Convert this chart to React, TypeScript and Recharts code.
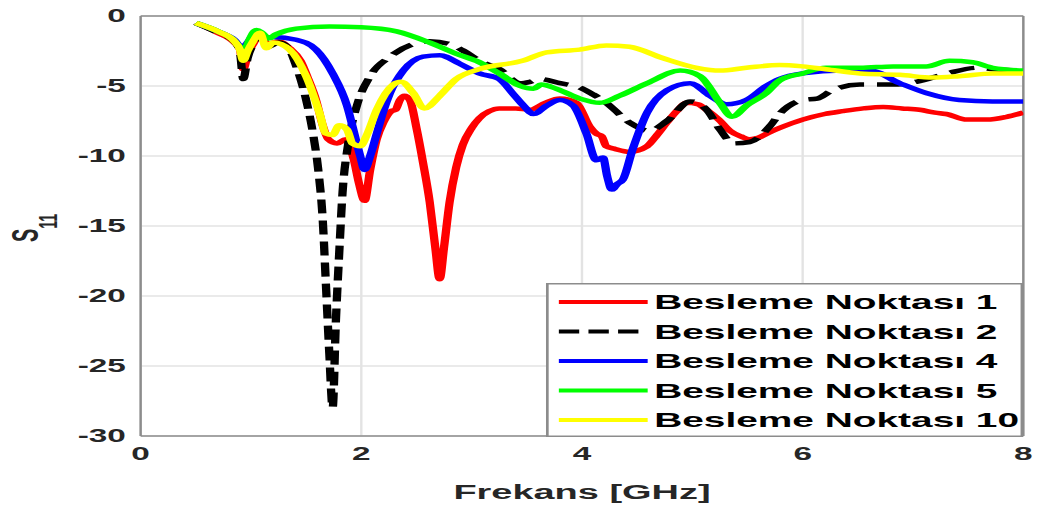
import { LineChart, Line, XAxis, YAxis, CartesianGrid, ReferenceLine } from 'recharts';

// frequency (GHz) / S11 (dB), one pair of arrays per feed point
const freq1 = [0.5, 0.7, 0.85, 0.9, 0.93, 0.97, 1.02, 1.08, 1.15, 1.25, 1.35, 1.45, 1.52, 1.59, 1.65, 1.7, 1.78, 1.86, 1.93, 1.98, 2.03, 2.08, 2.14, 2.2, 2.27, 2.31, 2.35, 2.39, 2.44, 2.5, 2.56, 2.62, 2.67, 2.71, 2.75, 2.8, 2.86, 2.92, 3.0, 3.07, 3.16, 3.25, 3.4, 3.53, 3.67, 3.8, 3.95, 4.07, 4.13, 4.18, 4.22, 4.3, 4.43, 4.59, 4.68, 4.77, 4.87, 4.95, 5.05, 5.13, 5.24, 5.34, 5.44, 5.52, 5.6, 5.7, 5.79, 6.0, 6.2, 6.36, 6.55, 6.73, 6.9, 7.06, 7.2, 7.3, 7.49, 7.67, 7.85, 8.0];
const s11_1 = [-0.5, -1.2, -1.9, -2.4, -3.8, -2.8, -2.0, -1.3, -2.0, -1.8, -2.3, -3.2, -4.5, -6.0, -7.8, -8.8, -9.1, -8.8, -10.2, -12.0, -13.2, -11.0, -8.8, -7.6, -6.8, -6.7, -6.0, -5.7, -6.0, -8.0, -10.5, -13.3, -16.5, -18.8, -16.5, -13.3, -10.8, -9.2, -8.0, -7.3, -6.8, -6.6, -6.6, -6.7, -6.2, -5.9, -6.2, -7.9, -8.4, -8.6, -9.3, -9.5, -9.7, -9.3, -8.5, -7.6, -6.7, -6.2, -6.3, -6.7, -7.4, -8.2, -8.6, -8.8, -8.7, -8.3, -8.0, -7.4, -7.0, -6.8, -6.6, -6.5, -6.6, -6.7, -6.9, -7.0, -7.4, -7.4, -7.2, -6.9];

const freq2 = [0.5, 0.7, 0.85, 0.9, 0.93, 0.97, 1.02, 1.08, 1.15, 1.25, 1.33, 1.41, 1.5, 1.56, 1.61, 1.65, 1.68, 1.71, 1.74, 1.77, 1.8, 1.83, 1.88, 1.96, 2.08, 2.26, 2.47, 2.62, 2.8, 2.95, 3.07, 3.25, 3.44, 3.53, 3.62, 3.8, 3.98, 4.1, 4.22, 4.43, 4.61, 4.77, 4.98, 5.05, 5.13, 5.25, 5.37, 5.52, 5.7, 5.79, 6.0, 6.13, 6.27, 6.52, 6.82, 7.03, 7.31, 7.58, 7.73, 8.0];
const s11_2 = [-0.5, -1.2, -1.8, -2.6, -4.5, -3.0, -2.0, -1.3, -2.2, -1.9, -2.2, -3.6, -6.0, -8.3, -11.0, -14.5, -19.3, -24.1, -28.0, -21.7, -16.9, -12.6, -9.2, -6.4, -4.3, -2.9, -2.0, -1.8, -2.0, -2.6, -3.2, -3.8, -4.8, -4.7, -4.5, -4.8, -5.1, -5.6, -6.2, -7.6, -8.2, -7.5, -6.1, -6.2, -6.7, -8.1, -9.1, -9.0, -7.9, -7.0, -6.0, -5.9, -5.3, -4.9, -4.9, -4.7, -4.1, -3.7, -3.8, -3.9];

const freq4 = [0.5, 0.7, 0.85, 0.92, 0.97, 1.05, 1.12, 1.2, 1.41, 1.59, 1.74, 1.87, 1.95, 1.99, 2.03, 2.08, 2.14, 2.2, 2.26, 2.38, 2.56, 2.71, 2.89, 3.07, 3.25, 3.38, 3.47, 3.56, 3.68, 3.8, 3.92, 4.04, 4.13, 4.19, 4.23, 4.27, 4.32, 4.37, 4.46, 4.59, 4.77, 4.98, 5.16, 5.31, 5.49, 5.67, 5.79, 6.0, 6.36, 6.61, 6.88, 7.12, 7.42, 7.72, 8.0];
const s11_4 = [-0.5, -1.1, -1.7, -2.3, -1.9, -1.1, -1.6, -1.5, -1.7, -2.4, -4.1, -6.4, -8.8, -10.0, -11.0, -10.0, -8.4, -6.8, -5.5, -3.9, -2.9, -2.8, -3.4, -4.1, -4.5, -5.6, -6.4, -7.0, -6.4, -6.0, -6.4, -8.4, -10.3, -10.1, -11.5, -12.4, -12.0, -11.7, -9.5, -6.9, -5.3, -4.8, -5.7, -6.3, -6.0, -5.0, -4.5, -4.1, -3.9, -3.9, -4.8, -5.5, -6.0, -6.1, -6.1];

const freq5 = [0.5, 0.7, 0.85, 0.9, 0.93, 0.97, 1.05, 1.1, 1.16, 1.23, 1.41, 1.71, 2.0, 2.32, 2.62, 2.86, 3.07, 3.25, 3.44, 3.56, 3.63, 3.77, 3.98, 4.16, 4.34, 4.59, 4.89, 5.07, 5.25, 5.36, 5.49, 5.67, 5.79, 6.0, 6.21, 6.52, 6.82, 7.12, 7.33, 7.54, 7.72, 8.0];
const s11_5 = [-0.5, -1.1, -1.8, -2.3, -2.8, -2.0, -1.0, -1.2, -1.6, -1.3, -0.9, -0.75, -0.8, -1.1, -1.9, -2.7, -3.3, -4.1, -5.0, -5.2, -4.9, -5.2, -5.9, -6.2, -5.7, -4.8, -3.9, -4.3, -6.2, -7.2, -6.4, -5.5, -4.6, -4.1, -3.7, -3.7, -3.6, -3.6, -3.2, -3.3, -3.7, -3.9];

const freq10 = [0.5, 0.7, 0.85, 0.9, 0.93, 0.97, 1.02, 1.08, 1.14, 1.2, 1.35, 1.5, 1.62, 1.68, 1.74, 1.8, 1.87, 1.92, 1.99, 2.05, 2.14, 2.29, 2.36, 2.47, 2.57, 2.71, 2.86, 3.07, 3.46, 3.68, 3.98, 4.22, 4.43, 4.73, 5.04, 5.25, 5.49, 5.79, 6.0, 6.21, 6.52, 6.88, 7.18, 7.42, 7.72, 8.0];
const s11_10 = [-0.5, -1.1, -1.8, -2.4, -3.2, -2.5, -1.8, -1.2, -2.3, -1.9, -2.4, -4.3, -6.9, -8.4, -8.5, -7.8, -8.1, -9.1, -9.3, -8.5, -6.7, -4.9, -4.7, -5.5, -6.6, -5.7, -4.5, -3.8, -3.2, -2.6, -2.4, -2.1, -2.2, -3.0, -3.7, -3.9, -3.7, -3.5, -3.6, -3.8, -4.1, -4.2, -4.4, -4.3, -4.1, -4.1];

const xTicks = [0, 2, 4, 6, 8];
const yTicks = [-30, -25, -20, -15, -10, -5, 0];

const toPoints = (f: number[], s: number[]) => f.map((v, i) => ({ f: v, s: s[i] }));

const series = [
  { name: 'Besleme Noktası 1', color: '#ff0000', dash: undefined, data: toPoints(freq1, s11_1) },
  { name: 'Besleme Noktası 2', color: '#000000', dash: '14 7', data: toPoints(freq2, s11_2) },
  { name: 'Besleme Noktası 4', color: '#0000ff', dash: undefined, data: toPoints(freq4, s11_4) },
  { name: 'Besleme Noktası 5', color: '#00ff00', dash: undefined, data: toPoints(freq5, s11_5) },
  { name: 'Besleme Noktası 10', color: '#ffff00', dash: undefined, data: toPoints(freq10, s11_10) },
];

const FONT = "'Liberation Sans', Arial, Helvetica, sans-serif";
// the original figure is stretched horizontally, so the whole chart is drawn narrow and scaled in x
const STRETCH = 1.8505;
const W = 562;
const H = 514;

function YLabel({ viewBox }: any) {
  const cx = viewBox.x + 4.5;
  const cy = viewBox.y + viewBox.height / 2 + 2;
  return (
    <text x={cx} y={cy} transform={`rotate(-90 ${cx} ${cy})`} textAnchor="middle" fontFamily={FONT} fontWeight="bold" fontSize={20} fill="#262626">
      S<tspan fontSize={14} dy={10.5}>11</tspan>
    </text>
  );
}

function XLabel({ viewBox }: any) {
  return (
    <text x={viewBox.x + viewBox.width / 2} y={viewBox.y + 63} textAnchor="middle" fontFamily={FONT} fontWeight="bold" fontSize={20.5} fill="#262626">
      Frekans [GHz]
    </text>
  );
}

function LegendBox() {
  return (
    <svg width={258} height={154} style={{ position: 'absolute', left: 294.5, top: 283 }}>
      <rect x={0.75} y={0.75} width={256.5} height={152.5} fill="#fff" stroke="#8c8c8c" strokeWidth={1.5} />
      {series.map((s, i) => {
        const y = 19 + i * 29.5;
        return (
          <g key={s.name}>
            <line x1={7} x2={55} y1={y} y2={y} stroke={s.color} strokeWidth={4} strokeDasharray={s.dash ? '11 5' : undefined} />
            <text x={58.5} y={y} dominantBaseline="central" fontFamily={FONT} fontWeight="bold" fontSize={21} fill="#000">
              {s.name}
            </text>
          </g>
        );
      })}
    </svg>
  );
}

export default function App() {
  const tickStyle = { fill: '#262626', fontSize: 18, fontWeight: 'bold', fontFamily: FONT };
  return (
    <div style={{ position: 'absolute', left: 0, top: 0, width: W, height: H, transform: `scaleX(${STRETCH})`, transformOrigin: '0 0', background: '#fff' }}>
      <LineChart width={W} height={H} margin={{ top: 16, right: 9, bottom: 18, left: 16 }}>
        <CartesianGrid stroke="#e3e3e3" strokeWidth={1.3} />
        <XAxis dataKey="f" type="number" domain={[0, 8]} ticks={xTicks} tick={tickStyle} tickLine={false} tickMargin={5} height={60} axisLine={{ stroke: '#8c8c8c', strokeWidth: 1.5 }} label={XLabel} allowDataOverflow />
        <YAxis type="number" domain={[-30, 0]} ticks={yTicks} tick={tickStyle} tickLine={false} width={60} axisLine={{ stroke: '#8c8c8c', strokeWidth: 1.3 }} label={YLabel} allowDataOverflow />
        <ReferenceLine y={0} stroke="#8c8c8c" strokeWidth={1.5} />
        <ReferenceLine x={8} stroke="#8c8c8c" strokeWidth={1.3} />
        {series.map((s) => (
          <Line key={s.name} data={s.data} dataKey="s" name={s.name} type="monotone" stroke={s.color} strokeWidth={4.5} strokeDasharray={s.dash} dot={false} activeDot={false} isAnimationActive={false} />
        ))}
      </LineChart>
      <LegendBox />
    </div>
  );
}
